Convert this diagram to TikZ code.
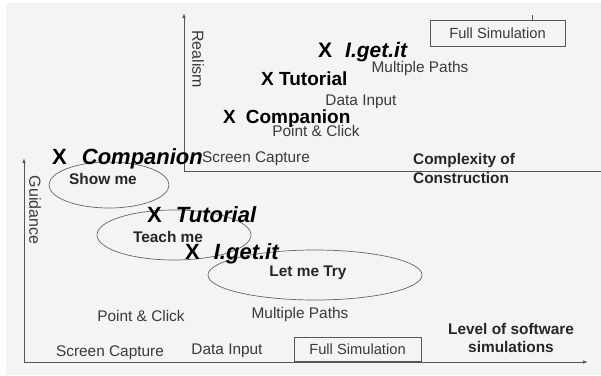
\documentclass[tikz,border=0pt]{standalone}
\usepackage{fontspec}
\setmainfont{Liberation Sans}
\usetikzlibrary{arrows.meta,shapes.geometric}
\definecolor{bg}{HTML}{F4F4F4}
\definecolor{txt}{HTML}{3A3A3A}
\definecolor{axis}{HTML}{555555}
\begin{document}
\begin{tikzpicture}[x=1pt,y=-1pt,
 lbl/.style={font=\fontsize{15.4}{18}\selectfont,text=txt,inner sep=0pt,anchor=base},
 blbl/.style={font=\bfseries\fontsize{15.4}{18}\selectfont,text=black!85,inner sep=0pt,anchor=base},
 xbig/.style={font=\bfseries\fontsize{19}{22}\selectfont,text=black,inner sep=0pt,anchor=base west},
 xhuge/.style={font=\bfseries\fontsize{22}{26}\selectfont,text=black,inner sep=0pt,anchor=base west},
 axisline/.style={draw=axis,line width=0.9pt},
 arr/.style={-{Latex[length=5pt,width=3.5pt]}},
 oval/.style={ellipse,draw=black!60,line width=0.7pt,inner sep=0pt},
 simbox/.style={draw=black!65,line width=0.9pt,inner sep=0pt,font=\fontsize{14.7}{17}\selectfont,text=txt},
 axtitle/.style={font=\fontsize{16}{18}\selectfont,text=txt,inner sep=0pt,rotate=-90}]
\useasboundingbox (0,0) rectangle (601,375);
\fill[bg] (6,3) rectangle (601,375);
% upper axes
\coordinate (uo) at (184,171);
\coordinate (uy) at (184,13);
\coordinate (ux) at (601,171);
\draw[axisline,arr] (uo) -- (uy);
\draw[axisline] (uo) -- (ux);
% lower axes
\coordinate (lo) at (24,362);
\coordinate (ly) at (24,158);
\coordinate (lx) at (588,362);
\draw[axisline,arr] (lo) -- (ly);
\draw[axisline,arr] (lo) -- (lx);
% ellipses
\node[oval,minimum width=120pt,minimum height=46pt] (showE) at (109,185) {};
\node[oval,minimum width=154pt,minimum height=50pt] (teachE) at (174,235) {};
\node[oval,minimum width=214pt,minimum height=50pt] (tryE) at (315,275) {};
% upper texts
\node[simbox,minimum width=135pt,minimum height=26pt] (fsU) at (497.5,33) {Full Simulation};
\coordinate (tickTop) at (532,15);
\draw[draw=black!65,line width=0.7pt] (tickTop) -- (tickTop |- fsU.north);
\node[axtitle] (realism) at (198,59) {Realism};
\node[xbig,font=\bfseries\fontsize{21}{24}\selectfont] (igetU) at (318,57.6) {X\hspace{13pt}\textit{I.get.it}};
\node[xbig] (tutU) at (261,85.8) {X Tutorial};
\node[xbig] (compU) at (223,123.8) {X\hspace{10pt}Companion};
\node[lbl] (mpU) at (420,72.5) {Multiple Paths};
\node[lbl] (diU) at (361,105.5) {Data Input};
\node[lbl] (pcU) at (316,136.5) {Point \& Click};
\node[lbl] (scU) at (256,162.5) {Screen Capture};
\node[blbl,anchor=base west] (cx1) at (413,164.5) {Complexity of};
\node[blbl,anchor=base west] (cx2) at (413,183.5) {Construction};
% lower texts
\node[axtitle] (guid) at (35,210) {Guidance};
\node[blbl] (showT) at (103,184.5) {Show me};
\node[blbl] (teachT) at (168,242.5) {Teach me};
\node[blbl] (tryT) at (308,276.5) {Let me Try};
\node[xhuge] (compL) at (52,164.9) {X\hspace{15pt}\textit{Companion}};
\node[xhuge] (tutL) at (147,222.9) {X\hspace{14pt}\textit{Tutorial}};
\node[xhuge] (igetL) at (185,259.9) {X\hspace{14pt}\textit{I.get.it}};
\node[lbl] (pcL) at (141,321.5) {Point \& Click};
\node[lbl] (mpL) at (300,318.5) {Multiple Paths};
\node[blbl] (lvl1) at (511,334) {Level of software};
\node[blbl] (lvl2) at (511,352) {simulations};
\node[lbl] (scL) at (110,356) {Screen Capture};
\node[lbl] (diL) at (227,354.5) {Data Input};
\node[simbox,minimum width=127pt,minimum height=24pt] (fsL) at (357.5,349) {Full Simulation};
\end{tikzpicture}
\end{document}
